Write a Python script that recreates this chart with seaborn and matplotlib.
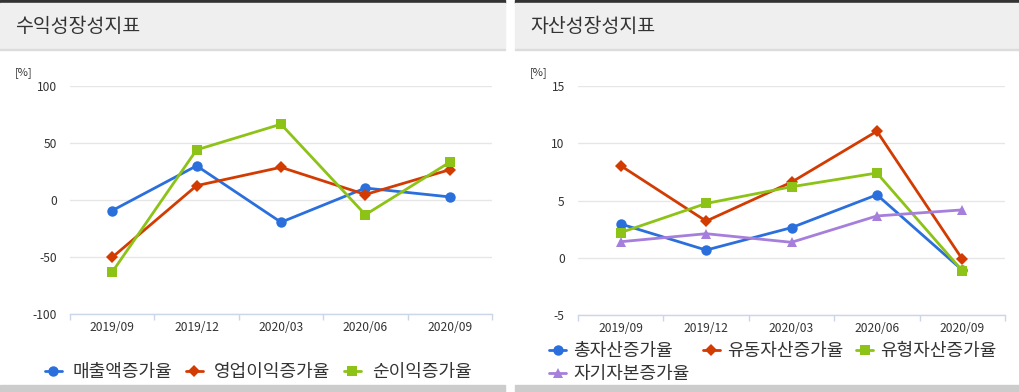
import numpy as np
import pandas as pd
import matplotlib
matplotlib.use("Agg")
import matplotlib.pyplot as plt
from matplotlib.lines import Line2D
from matplotlib.patches import Rectangle
import seaborn as sns

# ---------------- data ----------------
periods = ["2019/09", "2019/12", "2020/03", "2020/06", "2020/09"]

left_title = "수익성장성지표"
left_names = ["매출액증가율", "영업이익증가율", "순이익증가율"]
sales_growth = [-9.3, 30.0, -19.5, 10.5, 2.7]
op_income_growth = [-50.3, 12.6, 28.7, 4.8, 26.6]
net_income_growth = [-63.2, 44.0, 66.5, -12.9, 33.2]
left_ticks = [-100, -50, 0, 50, 100]

right_title = "자산성장성지표"
right_names = ["총자산증가율", "유동자산증가율", "유형자산증가율", "자기자본증가율"]
total_assets_growth = [2.95, 0.67, 2.63, 5.5, -1.08]
current_assets_growth = [8.04, 3.2, 6.6, 11.05, -0.12]
tangible_assets_growth = [2.2, 4.74, 6.2, 7.4, -1.14]
equity_growth = [1.4, 2.1, 1.35, 3.65, 4.18]
right_ticks = [-5, 0, 5, 10, 15]

unit_label = "[%]"

# ---------------- style ----------------
sns.set_style("white")
plt.rcParams["font.family"] = ["Noto Sans CJK KR", "DejaVu Sans"]

colors = ["#2a6fdc", "#d23c02", "#8cc316", "#a67edb"]
markers = ["o", "D", "s", "^"]
msizes = [7.5, 6.0, 7.5, 7.5]

W, H = 1020, 392
fig = plt.figure(figsize=(W / 100, H / 100), dpi=100)


def fx(px):
    return px / W


def fy(py):
    return 1 - py / H


def panel(x0, x1, title):
    fig.patches.append(Rectangle((fx(x0), fy(3)), fx(x1 - x0), 3 / H,
                                 transform=fig.transFigure, color="#333333", zorder=0))
    fig.patches.append(Rectangle((fx(x0), fy(49)), fx(x1 - x0), 46 / H,
                                 transform=fig.transFigure, color="#efefef", zorder=0))
    fig.patches.append(Rectangle((fx(x0), fy(50)), fx(x1 - x0), 1 / H,
                                 transform=fig.transFigure, color="#dcdcdc", zorder=0))
    fig.patches.append(Rectangle((fx(x0), 0), fx(x1 - x0), 7 / H,
                                 transform=fig.transFigure, color="#cccccc", zorder=0))
    fig.text(fx(x0 + 15), fy(27), title, fontsize=14, color="#333333",
             va="center", ha="left")


def draw(ax_rect, names, series, ticks, unit_x):
    ax = fig.add_axes(ax_rect)
    rows = []
    for n, vals in zip(names, series):
        for p, v in zip(periods, vals):
            rows.append({"기간": p, "지표": n, "값": v})
    df = pd.DataFrame(rows)
    for i, n in enumerate(names):
        sub = df[df["지표"] == n]
        sns.lineplot(data=sub, x="기간", y="값", color=colors[i], marker=markers[i],
                     markersize=msizes[i], markeredgewidth=0, linewidth=2.0,
                     sort=False, legend=False, ax=ax, zorder=3 + i)
    ax.set_xlim(-0.5, len(periods) - 0.5)
    ax.set_ylim(ticks[0], ticks[-1])
    ax.set_yticks(ticks)
    ax.set_yticklabels([str(t) for t in ticks])
    ax.set_xticks(range(len(periods)))
    ax.set_xticklabels(periods)
    ax.set_xticks(np.arange(-0.5, len(periods)), minor=True)
    ax.set_xlabel("")
    ax.set_ylabel("")
    ax.tick_params(axis="y", length=0, pad=9.5, labelsize=8.7, labelcolor="#333333")
    ax.tick_params(axis="x", which="major", bottom=True, length=0, pad=5,
                   labelsize=8.7, labelcolor="#333333")
    ax.tick_params(axis="x", which="minor", bottom=True, length=4.3, width=1,
                   color="#ccd6eb")
    ax.yaxis.grid(True, color="#e6e6e6", linewidth=1)
    ax.set_axisbelow(True)
    for s in ["top", "left", "right"]:
        ax.spines[s].set_visible(False)
    ax.spines["bottom"].set_color("#ccd6eb")
    ax.spines["bottom"].set_linewidth(1)
    ax.patch.set_alpha(0)
    fig.text(fx(unit_x), fy(73), unit_label, fontsize=8, color="#333333",
             ha="left", va="center")
    return ax


panel(0, 505, left_title)
panel(515, 1020, right_title)

axL = draw([fx(70), fy(314), fx(422), (314 - 86) / H], left_names,
           [sales_growth, op_income_growth, net_income_growth], left_ticks, 15)
axR = draw([fx(578), fy(315), fx(427), (315 - 86) / H], right_names,
           [total_assets_growth, current_assets_growth, tangible_assets_growth, equity_growth],
           right_ticks, 530)


def handle(i):
    return Line2D([0], [0], color=colors[i], marker=markers[i], markersize=msizes[i],
                  markeredgewidth=0, linewidth=2.0)


legL = fig.legend([handle(i) for i in range(3)], left_names, loc="center",
                  bbox_to_anchor=(fx(258), fy(372)), ncol=3, frameon=False,
                  fontsize=13, handlelength=0.95, handletextpad=0.6,
                  columnspacing=0.75, borderpad=0, labelcolor="#333333")

order = [0, 3, 1, 2]
legR = fig.legend([handle(i) for i in order], [right_names[i] for i in order],
                  loc="center", bbox_to_anchor=(fx(773), fy(362.5)), ncol=3,
                  frameon=False, fontsize=13, handlelength=0.95, handletextpad=0.4,
                  columnspacing=0.7, borderpad=0, labelspacing=0.28,
                  labelcolor="#333333")

fig.savefig("out.png", dpi=100)
